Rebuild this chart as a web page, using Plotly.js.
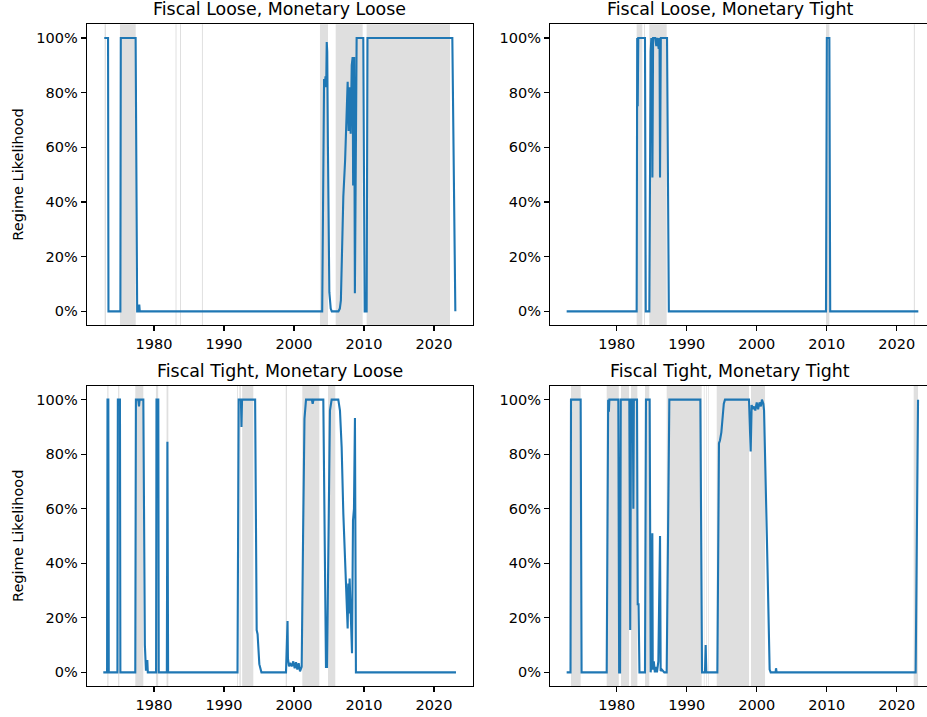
<!DOCTYPE html>
<html>
<head>
<meta charset="utf-8">
<script src="https://cdn.plot.ly/plotly-3.0.1.min.js"></script>
<style>html,body{margin:0;padding:0;background:#fff;}#chart{width:927px;height:717px;}</style>
</head>
<body>
<div id="chart"></div>
<script>
// ---------- DATA ----------
const panelTitles = ["Fiscal Loose, Monetary Loose", "Fiscal Loose, Monetary Tight", "Fiscal Tight, Monetary Loose", "Fiscal Tight, Monetary Tight"];
const yAxisLabel = "Regime Likelihood";
const xTickValues = [1980, 1990, 2000, 2010, 2020];
const yTickValues = [0, 0.2, 0.4, 0.6, 0.8, 1.0];

// Fiscal Loose, Monetary Loose
const looseLooseYear = [1972.9, 1973.44, 1973.5, 1975.2, 1975.26, 1977.38, 1977.6, 1977.82, 1977.9, 1977.97,
  2004.03, 2004.3, 2004.4, 2004.5, 2004.6, 2004.68, 2004.75, 2004.85, 2004.95, 2005.05, 2005.25, 2005.4,
  2006.35, 2006.55, 2006.7, 2007.05, 2007.3, 2007.52, 2007.67, 2007.8, 2007.95, 2008.1, 2008.25, 2008.38,
  2008.45, 2008.52, 2008.6, 2008.7, 2008.82, 2008.95, 2009.9, 2010.0, 2010.1, 2010.38, 2010.5,
  2022.62, 2022.72, 2022.82, 2022.92, 2023.05];
const looseLooseProb = [1, 1, 0, 0, 1, 1, 0, 0, 0.025, 0,
  0, 0.85, 0.82, 0.86, 0.82, 0.985, 0.95, 0.6, 0.25, 0.07, 0.01, 0,
  0, 0.01, 0.04, 0.42, 0.55, 0.76, 0.84, 0.66, 0.82, 0.65, 0.9, 0.93,
  0.46, 0.92, 0.93, 0.066, 0.5, 1, 1, 0.3, 0, 0, 1,
  1, 0.75, 0.35, 0.1, 0];
const looseLooseShadeStart = [1972.95, 1975.14, 1983.08, 1983.72, 1986.85, 2003.71, 2005.96, 2010.38];
const looseLooseShadeEnd   = [1973.15, 1977.39, 1983.22, 1983.86, 1986.99, 2004.86, 2009.81, 2022.29];

// Fiscal Loose, Monetary Tight
const looseTightYear = [1972.85, 1982.85, 1982.93, 1983.0, 1983.08, 1984.04, 1984.15, 1984.66, 1984.85, 1984.95,
  1985.05, 1985.1, 1985.2, 1985.5, 1985.66, 1985.8, 1986.0, 1986.12, 1986.19, 1986.3, 1987.19, 1987.45,
  2009.9, 2010.02, 2010.38, 2010.5, 2023.09];
const looseTightProb = [0, 0, 1, 0.75, 1, 1, 0, 0, 0.95, 1,
  0.99, 0.49, 1, 1, 0.97, 1, 0.96, 1, 0.49, 1, 1, 0,
  0, 1, 1, 0, 0];
const looseTightShadeStart = [1982.85, 1983.9, 1984.66, 2009.9, 2022.45];
const looseTightShadeEnd   = [1983.66, 1984.04, 1987.14, 2010.38, 2022.6];

// Fiscal Tight, Monetary Loose
const tightLooseYear = [1972.76, 1973.3, 1973.36, 1973.48, 1973.54, 1974.78, 1974.84, 1975.14, 1975.2,
  1977.33, 1977.42, 1977.76, 1977.86, 1977.95, 1978.48, 1978.7, 1978.85, 1978.98, 1979.05, 1979.12,
  1980.3, 1980.36, 1980.62, 1980.68, 1981.84, 1981.92, 1982.02,
  1991.93, 1992.1, 1992.42, 1992.5, 1992.58, 1994.45, 1994.6, 1994.67, 1994.8, 1994.9, 1995.05, 1995.35,
  1998.86, 1999.08, 1999.14, 1999.29, 1999.43, 1999.67, 1999.9, 2000.1, 2000.29, 2000.48, 2000.67, 2000.86,
  2001.1, 2001.3, 2001.5, 2001.72, 2002.55, 2002.67, 2002.8, 2004.19, 2004.35, 2004.43, 2004.57, 2004.72,
  2004.95, 2005.14, 2005.38, 2006.33, 2006.57, 2006.81, 2007.05, 2007.29, 2007.52, 2007.67, 2007.76,
  2007.86, 2007.95, 2008.1, 2008.29, 2008.43, 2008.57, 2008.71, 2008.85, 2023.14];
const tightLooseProb = [0, 0, 1, 1, 0, 0, 1, 1, 0,
  0, 1, 1, 0.975, 1, 1, 0.1, 0.01, 0.01, 0.045, 0,
  0, 1, 1, 0, 0, 0.846, 0,
  0, 1, 1, 0.9, 1, 1, 0.3, 0.155, 0.14, 0.1, 0.03, 0,
  0, 0.188, 0.05, 0.022, 0.034, 0.022, 0.04, 0.015, 0.037, 0.01, 0.034, 0.004,
  0.02, 0.5, 0.93, 1, 1, 0.985, 1, 1, 0.5, 0.18, 0.02, 0.02,
  0.6, 0.96, 1, 1, 0.96, 0.826, 0.582, 0.435, 0.24, 0.161, 0.326,
  0.216, 0.344, 0.2, 0.07, 0.557, 0.6, 0.933, 0, 0];
const tightLooseShadeStart = [1973.33, 1974.88, 1977.33, 1980.28, 1981.8, 1991.88, 1992.2, 1992.6, 1998.82, 2001.19, 2004.86];
const tightLooseShadeEnd   = [1973.5, 1975.05, 1978.48, 1980.6, 1982.05, 1992.0, 1992.4, 1994.19, 1999.0, 2003.62, 2005.9];

// Fiscal Tight, Monetary Tight
const tightTightYear = [1972.85, 1973.4, 1973.47, 1974.85, 1974.98, 1978.57, 1978.78, 1978.88, 1978.95,
  1980.23, 1980.35, 1980.48, 1980.58, 1981.8, 1981.93, 1982.05, 1982.3, 1982.38, 1982.45, 1982.9,
  1983.0, 1983.12, 1983.25, 1984.04, 1984.18, 1984.71, 1984.85, 1985.0, 1985.09, 1985.15, 1985.3,
  1985.45, 1985.6, 1985.75, 1985.95, 1986.19, 1986.28, 1986.45, 1986.8, 1987.14, 1987.52, 1991.95,
  1992.19, 1992.61, 1992.71, 1992.8, 1994.38, 1994.61, 1994.75, 1994.95, 1995.15, 1995.3, 1995.47,
  1998.9, 1999.14, 1999.28, 1999.45, 1999.62, 1999.8, 2000.0, 2000.2, 2000.4, 2000.6, 2000.75, 2000.95,
  2001.05, 2001.45, 2001.85, 2002.0, 2002.7, 2002.76, 2002.85, 2022.71, 2023.05];
const tightTightProb = [0, 0, 1, 1, 0, 0, 1, 0.955, 1,
  1, 0, 0, 1, 1, 0.155, 1, 1, 0.6, 1, 1,
  0.25, 0.25, 0, 0, 1, 1, 0, 0.04, 0.51, 0.01, 0.04,
  0, 0.02, 0, 0.04, 0.5, 0.005, 0.01, 0, 0, 1, 1,
  0, 0, 0.1, 0, 0, 0.84, 0.85, 0.88, 0.94, 0.985, 1,
  1, 0.81, 0.98, 0.965, 0.975, 0.96, 0.99, 0.965, 0.99, 0.975, 1, 0.985,
  0.96, 0.5, 0.01, 0, 0, 0.015, 0, 0, 1];
const tightTightShadeStart = [1973.47, 1978.57, 1980.61, 1982.05, 1984.04, 1987.14, 1992.45, 1992.8, 1993.05, 1994.29, 1999.19, 2022.43];
const tightTightShadeEnd   = [1974.85, 1980.3, 1981.76, 1982.95, 1984.66, 1992.14, 1992.55, 1992.9, 1993.15, 1998.9, 2001.19, 2023.05];

// ---------- LAYOUT ----------
const W = 927, H = 717;
const panels = [
  {x: looseLooseYear, y: looseLooseProb, s: looseLooseShadeStart, e: looseLooseShadeEnd, left: 86.7, right: 472.7, top: 24.3, bottom: 325, range: [1970.39, 2025.53], ylab: true, tx: 279.7},
  {x: looseTightYear, y: looseTightProb, s: looseTightShadeStart, e: looseTightShadeEnd, left: 550, right: 927, top: 24.3, bottom: 325, range: [1970.47, 2024.33], ylab: false, tx: 730},
  {x: tightLooseYear, y: tightLooseProb, s: tightLooseShadeStart, e: tightLooseShadeEnd, left: 86.7, right: 472.7, top: 386, bottom: 686, range: [1970.39, 2025.53], ylab: true, tx: 279.7},
  {x: tightTightYear, y: tightTightProb, s: tightTightShadeStart, e: tightTightShadeEnd, left: 550, right: 927, top: 386, bottom: 686, range: [1970.47, 2024.33], ylab: false, tx: 730}
];

const font = "DejaVu Sans, Liberation Sans, sans-serif";
const tickSize = 14.5, titleSize = 17.4;
const data = [];
const shapes = [];
const annotations = [];
const layout = {
  width: W, height: H,
  margin: {l: 0, r: 0, t: 0, b: 0, pad: 0},
  paper_bgcolor: "white", plot_bgcolor: "white",
  showlegend: false,
  font: {family: font, size: tickSize, color: "black"}
};

panels.forEach((p, i) => {
  const n = i + 1;
  const xa = "x" + (n === 1 ? "" : n), ya = "y" + (n === 1 ? "" : n);
  const xk = "xaxis" + (n === 1 ? "" : n), yk = "yaxis" + (n === 1 ? "" : n);
  data.push({x: p.x, y: p.y, xaxis: xa, yaxis: ya, type: "scatter", mode: "lines",
    line: {color: "#1f77b4", width: 2.1}, hoverinfo: "skip"});
  layout[xk] = {
    domain: [p.left / W, Math.min(1, p.right / W)], anchor: ya, range: p.range,
    tickvals: xTickValues, ticktext: xTickValues.map(String),
    ticks: "outside", ticklen: 5, tickwidth: 1.1, tickcolor: "black",
    showline: true, linecolor: "black", linewidth: 1.1, mirror: true,
    showgrid: false, zeroline: false,
    tickfont: {family: font, size: tickSize, color: "black"}
  };
  layout[yk] = {
    domain: [1 - p.bottom / H, 1 - p.top / H], anchor: xa, range: [-0.05, 1.05],
    tickvals: yTickValues, tickformat: ".0%",
    ticks: "outside", ticklen: 5, tickwidth: 1.1, tickcolor: "black",
    showline: true, linecolor: "black", linewidth: 1.1, mirror: p.ylab,
    showgrid: false, zeroline: false,
    tickfont: {family: font, size: tickSize, color: "black"}
  };
  p.s.forEach((s, k) => {
    shapes.push({type: "rect", xref: xa, yref: ya + " domain", x0: s, x1: p.e[k], y0: 0, y1: 1,
      fillcolor: "#dfdfdf", line: {width: 0}, layer: "below"});
  });
  annotations.push({text: panelTitles[i], xref: "paper", yref: "paper",
    x: p.tx / W, y: 1 - (p.top - 15) / H,
    xanchor: "center", yanchor: "middle", showarrow: false,
    font: {family: font, size: titleSize, color: "black"}});
  if (p.ylab) {
    annotations.push({text: yAxisLabel, xref: "paper", yref: "paper",
      x: 18 / W, y: 1 - ((p.top + p.bottom) / 2) / H, textangle: -90,
      xanchor: "center", yanchor: "middle", showarrow: false,
      font: {family: font, size: tickSize, color: "black"}});
  }
});
layout.shapes = shapes;
layout.annotations = annotations;

Plotly.newPlot("chart", data, layout, {staticPlot: true, displayModeBar: false});
</script>
</body>
</html>
